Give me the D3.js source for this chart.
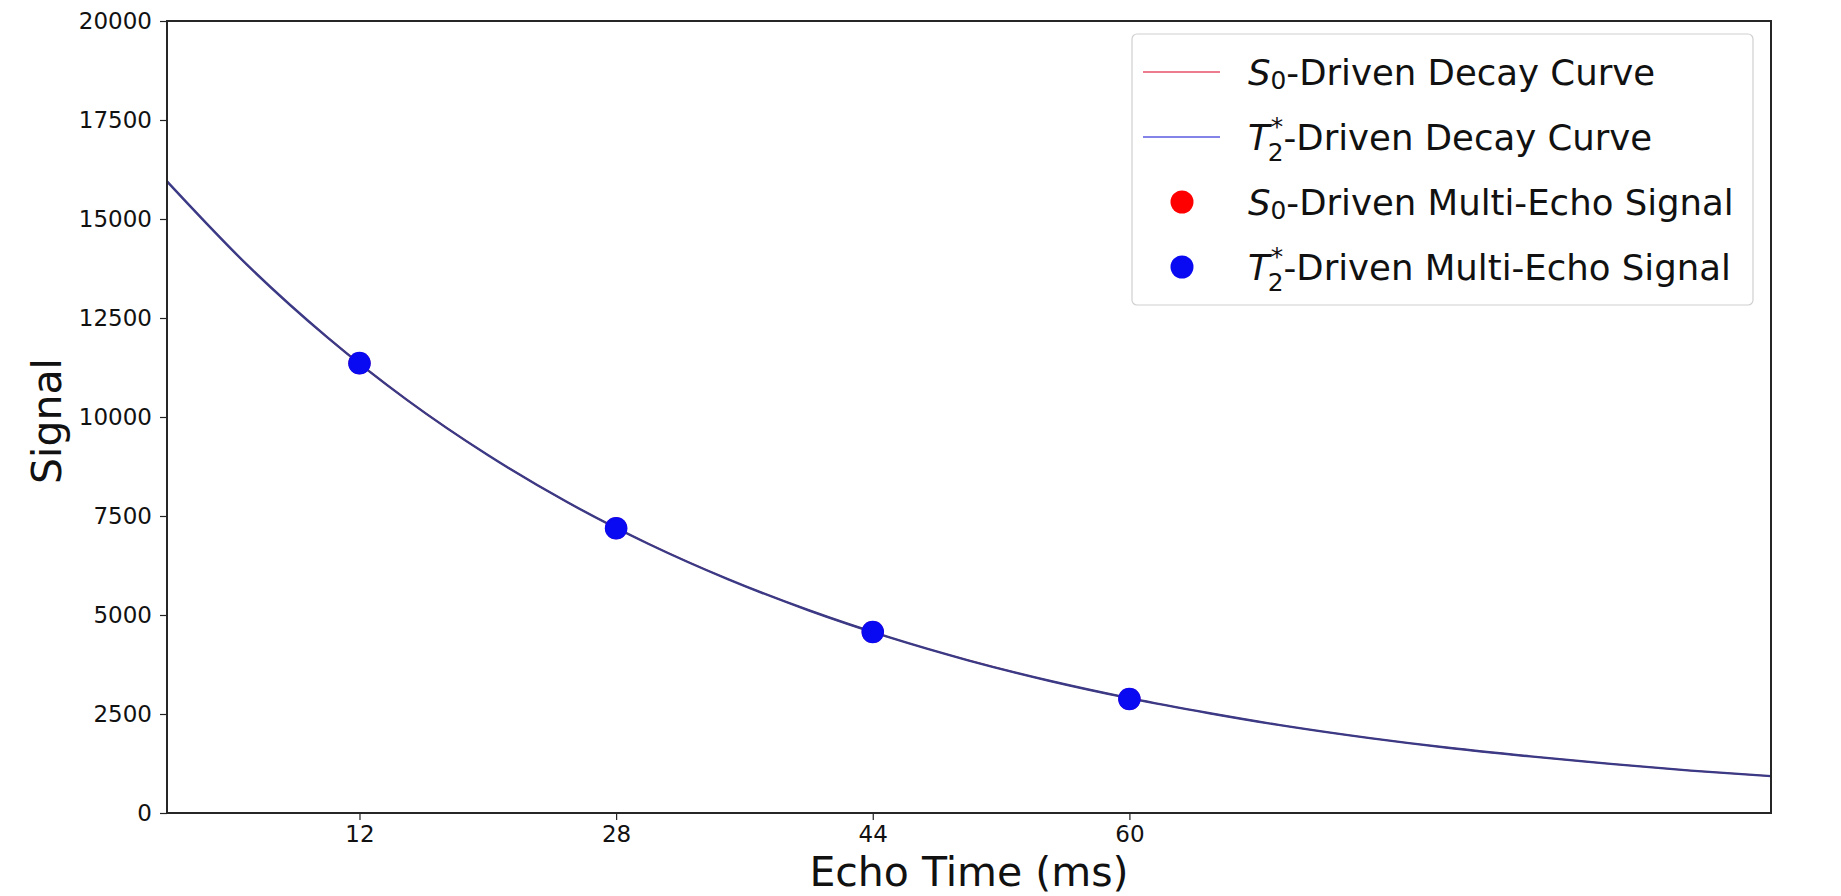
<!DOCTYPE html>
<html>
<head>
<meta charset="utf-8">
<script src="https://cdn.jsdelivr.net/npm/d3@7"></script>
<style>
  html, body { margin: 0; padding: 0; background: #ffffff; }
  svg { display: block; font-family: "DejaVu Sans", sans-serif; }
</style>
</head>
<body>
<svg id="chart" width="1841" height="896"></svg>
<script>
// ---------- data ----------
const curveTE = [0, 5, 10, 15, 20, 25, 30, 35, 40, 45, 50, 55, 60, 65, 70, 75, 80, 85, 90, 95, 100];
const s0Curve = [15950, 13840, 12010, 10420, 9040, 7840, 6800, 5900, 5120, 4440, 3850, 3340, 2900, 2520, 2180, 1890, 1640, 1430, 1240, 1070, 930];
const t2Curve = [15950, 13840, 12010, 10420, 9040, 7840, 6800, 5900, 5120, 4440, 3850, 3340, 2900, 2520, 2180, 1890, 1640, 1430, 1240, 1070, 930];
const echoTimes = [12, 28, 44, 60];
const s0Signal = [11360, 7190, 4570, 2880];
const t2Signal = [11360, 7190, 4570, 2880];
const xTicks = [12, 28, 44, 60];
const yTicks = [0, 2500, 5000, 7500, 10000, 12500, 15000, 17500, 20000];
const xDomain = [0, 100];
const yDomain = [0, 20000];
const xLabel = "Echo Time (ms)";
const yLabel = "Signal";

// ---------- layout ----------
const svg = d3.select("#chart");
const L = 167, R = 1771, T = 21, B = 813;
const x = d3.scaleLinear().domain(xDomain).range([L, R]);
const y = d3.scaleLinear().domain(yDomain).range([B, T]);

const cRed = "#ff0000", cBlueLine = "#3a3a86", cBlue = "#0a0af2";

// curves
const line = d3.line().x((d, i) => x(curveTE[i])).y(d => y(d)).curve(d3.curveMonotoneX);
const plot = svg.append("g");
plot.append("path").datum(s0Curve).attr("d", line)
  .attr("fill", "none").attr("stroke", cRed).attr("stroke-width", 1.4);
plot.append("path").datum(t2Curve).attr("d", line)
  .attr("fill", "none").attr("stroke", cBlueLine).attr("stroke-width", 2.4);

// scatter points
plot.selectAll("circle.s0").data(s0Signal).enter().append("circle")
  .attr("class", "s0").attr("cx", (d, i) => x(echoTimes[i])).attr("cy", d => y(d))
  .attr("r", 11).attr("fill", cRed);
plot.selectAll("circle.t2").data(t2Signal).enter().append("circle")
  .attr("class", "t2").attr("cx", (d, i) => x(echoTimes[i])).attr("cy", d => y(d))
  .attr("r", 11.3).attr("fill", cBlue);

// axes
const xAxis = svg.append("g").attr("transform", `translate(0,${B})`)
  .call(d3.axisBottom(x).tickValues(xTicks).tickSize(7).tickPadding(6).tickFormat(d3.format("d")));
const yAxis = svg.append("g").attr("transform", `translate(${L},0)`)
  .call(d3.axisLeft(y).tickValues(yTicks).tickSize(7).tickPadding(8).tickFormat(d3.format("d")));
[xAxis, yAxis].forEach(a => {
  a.select(".domain").remove();
  a.selectAll(".tick line").attr("stroke", "#222").attr("stroke-width", 1.2);
  a.selectAll(".tick text").attr("font-family", "DejaVu Sans").attr("font-size", 23).attr("fill", "#111");
});

// spines
svg.append("rect").attr("x", L).attr("y", T).attr("width", R - L).attr("height", B - T)
  .attr("fill", "none").attr("stroke", "#262626").attr("stroke-width", 2);

// axis labels
svg.append("text").attr("x", (L + R) / 2).attr("y", 886).attr("text-anchor", "middle")
  .attr("font-size", 41).attr("fill", "#111").text(xLabel);
svg.append("text").attr("transform", `translate(61,421) rotate(-90)`)
  .attr("text-anchor", "middle").attr("font-size", 41).attr("fill", "#111").text(yLabel);

// legend
const leg = svg.append("g");
leg.append("rect").attr("x", 1132).attr("y", 34).attr("width", 621).attr("height", 271)
  .attr("rx", 5).attr("fill", "#ffffff").attr("fill-opacity", 0.8)
  .attr("stroke", "#d0d0d0").attr("stroke-width", 1.2);

const legendItems = [
  { sym: "S", sub: "0", sup: null, rest: "-Driven Decay Curve", kind: "line", color: "#e8506a" },
  { sym: "T", sub: "2", sup: "*", rest: "-Driven Decay Curve", kind: "line", color: "#5a5ae0" },
  { sym: "S", sub: "0", sup: null, rest: "-Driven Multi-Echo Signal", kind: "dot", color: cRed },
  { sym: "T", sub: "2", sup: "*", rest: "-Driven Multi-Echo Signal", kind: "dot", color: cBlue }
];
const rowY0 = 72, rowStep = 65, fs = 35.5, textX = 1248;
legendItems.forEach((it, i) => {
  const cy = rowY0 + i * rowStep;
  if (it.kind === "line") {
    leg.append("line").attr("x1", 1143).attr("x2", 1220).attr("y1", cy).attr("y2", cy)
      .attr("stroke", it.color).attr("stroke-width", 1.6);
  } else {
    leg.append("circle").attr("cx", 1182).attr("cy", cy).attr("r", 11.5).attr("fill", it.color);
  }
  const base = cy + 13;
  const g = leg.append("g");
  let cx = textX;
  const t1 = g.append("text").attr("x", cx).attr("y", base).attr("font-size", fs)
    .attr("font-style", "italic").attr("fill", "#111").text(it.sym);
  cx += t1.node().getComputedTextLength();
  const subFs = fs * 0.7;
  let w = 0;
  if (it.sup) {
    const s = g.append("text").attr("x", cx + 1).attr("y", base - fs * 0.42).attr("font-size", subFs)
      .attr("fill", "#111").text(it.sup);
    w = Math.max(w, s.node().getComputedTextLength() + 1);
    const sb = g.append("text").attr("x", cx - 2).attr("y", base + fs * 0.3).attr("font-size", subFs)
      .attr("fill", "#111").text(it.sub);
    w = Math.max(w, sb.node().getComputedTextLength() - 2);
  } else {
    const sb = g.append("text").attr("x", cx).attr("y", base + fs * 0.12).attr("font-size", subFs)
      .attr("fill", "#111").text(it.sub);
    w = sb.node().getComputedTextLength();
  }
  cx += w;
  g.append("text").attr("x", cx).attr("y", base).attr("font-size", fs).attr("fill", "#111").text(it.rest);
});
</script>
</body>
</html>
